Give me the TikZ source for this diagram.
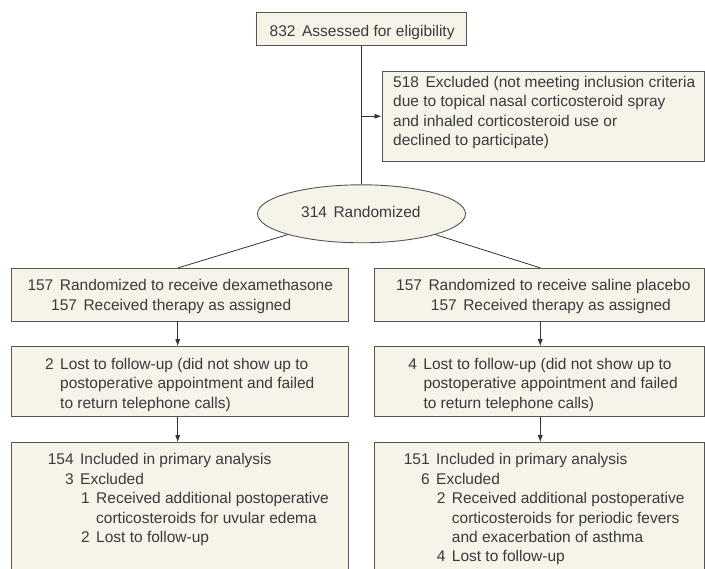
\documentclass[tikz,border=0pt]{standalone}
\usepackage{fontspec}
\setmainfont{Liberation Sans}
\usetikzlibrary{shapes.geometric,arrows.meta}
\definecolor{boxfill}{HTML}{F6F3E8}
\definecolor{boxline}{HTML}{555555}
\definecolor{txt}{HTML}{3A3A3A}
\newcommand\gp{\hspace{6.5pt}}
\newcommand\nm[2]{\makebox[#1][r]{#2\gp}}
\newcommand\tb[2]{\parbox[t]{#1}{\raggedright\fontsize{15.5pt}{19.4pt}\selectfont #2}}
\begin{document}
\begin{tikzpicture}[x=1pt,y=-1pt,
  boxnode/.style={draw=boxline,fill=boxfill,line width=0.9pt,inner sep=0pt,rectangle},
  ellnode/.style={draw=boxline,fill=boxfill,line width=0.9pt,inner sep=0pt,ellipse},
  label/.style={anchor=base west,inner sep=0pt,text=txt,font=\fontsize{15.5pt}{19.4pt}\selectfont},
  conn/.style={draw=black!80,line width=0.8pt},
  arr/.style={conn,-{Latex[length=7pt,width=5pt]}}]
\clip (0,0) rectangle (705,569);
\fill[white] (0,0) rectangle (705,569);
% boxes
\node[boxnode,minimum width=210.7pt,minimum height=33pt] (top) at (361.5,29) {};
\node[boxnode,minimum width=322.5pt,minimum height=89.5pt] (excl) at (543.25,116.25) {};
\node[ellnode,minimum width=208pt,minimum height=58pt] (ell) at (361.5,213.8) {};
\node[boxnode,minimum width=336.8pt,minimum height=52.7pt] (b1l) at (179.9,294.65) {};
\node[boxnode,minimum width=330.5pt,minimum height=52.7pt] (b1r) at (539.25,294.65) {};
\node[boxnode,minimum width=336.8pt,minimum height=70pt] (b2l) at (179.9,381.7) {};
\node[boxnode,minimum width=330.5pt,minimum height=70pt] (b2r) at (539.25,381.7) {};
\node[boxnode,minimum width=336.8pt,minimum height=137.3pt] (b3l) at (179.9,511.35) {};
\node[boxnode,minimum width=330.5pt,minimum height=137.3pt] (b3r) at (539.25,511.35) {};
% texts
\node[label] (ttop) at (269.5,36.3) {832\gp Assessed for eligibility};
\node[label] (texcl) at (393,87.6) {\tb{310pt}{518\gp Excluded (not meeting inclusion criteria\\
due to topical nasal corticosteroid spray\\
and inhaled corticosteroid use or\\
declined to participate)}};
\node[label] (tell) at (301,218) {314\gp Randomized};
\node[label] (tb1l) at (27.3,290.7) {\tb{320pt}{157\gp Randomized to receive dexamethasone\\
\hspace*{23.7pt}157\gp Received therapy as assigned}};
\node[label] (tb1r) at (396,290.7) {\tb{305pt}{157\gp Randomized to receive saline placebo\\
\hspace*{34.7pt}157\gp Received therapy as assigned}};
\node[label] (tb2l) at (30,369.3) {\tb{310pt}{\nm{30pt}{2}Lost to follow-up (did not show up to\\
\hspace*{30pt}postoperative appointment and failed\\
\hspace*{30pt}to return telephone calls)}};
\node[label] (tb2r) at (393.3,369.3) {\tb{310pt}{\nm{30pt}{4}Lost to follow-up (did not show up to\\
\hspace*{30pt}postoperative appointment and failed\\
\hspace*{30pt}to return telephone calls)}};
\node[label] (tb3l) at (40,465) {\tb{300pt}{\nm{40pt}{154}Included in primary analysis\\
\nm{40pt}{3}Excluded\\
\nm{56pt}{1}Received additional postoperative\\
\hspace*{56pt}corticosteroids for uvular edema\\
\nm{56pt}{2}Lost to follow-up}};
\node[label] (tb3r) at (396,465) {\tb{300pt}{\nm{40pt}{151}Included in primary analysis\\
\nm{40pt}{6}Excluded\\
\nm{55.7pt}{2}Received additional postoperative\\
\hspace*{55.7pt}corticosteroids for periodic fevers\\
\hspace*{55.7pt}and exacerbation of asthma\\
\nm{55.7pt}{4}Lost to follow-up}};
% connectors
\draw[conn] (top.south) -- (ell.north);
\draw[arr] (top.south |- excl.west) -- (excl.west);
\draw[conn] (ell.south west) -- ([xshift=-1.8pt]b1l.north);
\draw[conn] (ell.south east) -- ([xshift=1pt]b1r.north);
\draw[arr] ([xshift=-2.2pt]b1l.south) -- ([xshift=-2.2pt]b2l.north);
\draw[arr] ([xshift=1pt]b1r.south) -- ([xshift=1pt]b2r.north);
\draw[arr] ([xshift=-2.2pt]b2l.south) -- ([xshift=-2.2pt]b3l.north);
\draw[arr] ([xshift=1pt]b2r.south) -- ([xshift=1pt]b3r.north);
\end{tikzpicture}
\end{document}
